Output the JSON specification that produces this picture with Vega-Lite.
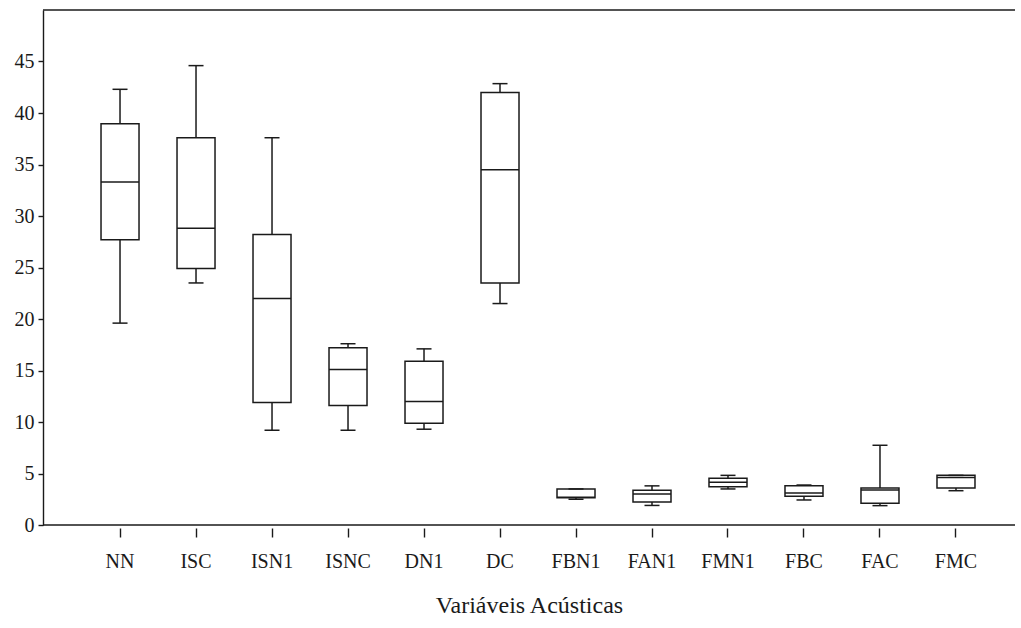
{
  "$schema": "https://vega.github.io/schema/vega-lite/v6.json",
  "width": 972,
  "height": 515,
  "autosize": {"type": "none"},
  "padding": {"left": 43, "top": 10, "right": 6, "bottom": 103},
  "background": "white",
  "config": {
    "view": {"stroke": null},
    "font": "Liberation Serif",
    "axis": {"grid": false, "domainColor": "#1a1a1a", "tickColor": "#1a1a1a", "labelColor": "#1a1a1a", "titleColor": "#1a1a1a", "labelFont": "Liberation Serif", "titleFont": "Liberation Serif", "titleFontWeight": "normal"}
  },
  "datasets": {
    "boxes": [
      {"var": "NN", "min": 19.6, "q1": 27.7, "median": 33.3, "q3": 38.96, "max": 42.3},
      {"var": "ISC", "min": 23.5, "q1": 24.9, "median": 28.8, "q3": 37.6, "max": 44.6},
      {"var": "ISN1", "min": 9.2, "q1": 11.9, "median": 22.0, "q3": 28.2, "max": 37.6},
      {"var": "ISNC", "min": 9.2, "q1": 11.6, "median": 15.1, "q3": 17.2, "max": 17.6},
      {"var": "DN1", "min": 9.3, "q1": 9.87, "median": 12.0, "q3": 15.9, "max": 17.1},
      {"var": "DC", "min": 21.5, "q1": 23.5, "median": 34.5, "q3": 42.0, "max": 42.85},
      {"var": "FBN1", "min": 2.5, "q1": 2.65, "median": 2.7, "q3": 3.5, "max": 3.5},
      {"var": "FAN1", "min": 1.9, "q1": 2.23, "median": 3.0, "q3": 3.37, "max": 3.8},
      {"var": "FMN1", "min": 3.5, "q1": 3.72, "median": 4.14, "q3": 4.53, "max": 4.82},
      {"var": "FBC", "min": 2.43, "q1": 2.8, "median": 3.1, "q3": 3.8, "max": 3.88},
      {"var": "FAC", "min": 1.88, "q1": 2.1, "median": 3.4, "q3": 3.6, "max": 7.74},
      {"var": "FMC", "min": 3.33, "q1": 3.6, "median": 4.6, "q3": 4.82, "max": 4.82}
    ]
  },
  "layer": [
    {
      "data": {"values": [{}]},
      "mark": {"type": "rule", "color": "#1a1a1a", "strokeWidth": 1.4},
      "encoding": {
        "y": {"datum": 0, "type": "quantitative", "scale": {"domain": [0, 50], "nice": false, "zero": true}, "axis": {"title": null, "values": [0, 5, 10, 15, 20, 25, 30, 35, 40, 45], "tickSize": 5, "labelPadding": 4, "labelFontSize": 20, "domainWidth": 1.4, "tickWidth": 1.4}}
      }
    },
    {
      "data": {"values": [{}]},
      "mark": {"type": "rule", "color": "#1a1a1a", "strokeWidth": 1.4},
      "encoding": {
        "y": {"datum": 50, "type": "quantitative"}
      }
    },
    {
      "data": {"name": "boxes"},
      "mark": {"type": "rule", "color": "#1a1a1a", "strokeWidth": 1.5},
      "encoding": {
        "x": {"field": "var", "type": "nominal", "sort": null, "scale": {"type": "band", "paddingInner": 0, "paddingOuter": 0.395, "align": 0.65}, "axis": {"title": "Variáveis Acústicas", "labelAngle": 0, "domain": false, "offset": 3, "tickSize": 9, "tickWidth": 1.4, "labelPadding": 14, "labelFontSize": 20, "titleFontSize": 24, "titlePadding": 22}},
        "y": {"field": "min", "type": "quantitative"},
        "y2": {"field": "max"}
      }
    },
    {
      "data": {"name": "boxes"},
      "mark": {"type": "bar", "size": 38, "fill": "white", "stroke": "#1a1a1a", "strokeWidth": 1.5},
      "encoding": {
        "x": {"field": "var", "type": "nominal", "sort": null},
        "y": {"field": "q1", "type": "quantitative"},
        "y2": {"field": "q3"}
      }
    },
    {
      "data": {"name": "boxes"},
      "mark": {"type": "tick", "size": 38, "thickness": 1.5, "color": "#1a1a1a", "opacity": 1},
      "encoding": {
        "x": {"field": "var", "type": "nominal", "sort": null},
        "y": {"field": "median", "type": "quantitative"}
      }
    },
    {
      "data": {"name": "boxes"},
      "mark": {"type": "tick", "size": 15, "thickness": 1.5, "color": "#1a1a1a", "opacity": 1},
      "encoding": {
        "x": {"field": "var", "type": "nominal", "sort": null},
        "y": {"field": "min", "type": "quantitative"}
      }
    },
    {
      "data": {"name": "boxes"},
      "mark": {"type": "tick", "size": 15, "thickness": 1.5, "color": "#1a1a1a", "opacity": 1},
      "encoding": {
        "x": {"field": "var", "type": "nominal", "sort": null},
        "y": {"field": "max", "type": "quantitative"}
      }
    }
  ]
}
